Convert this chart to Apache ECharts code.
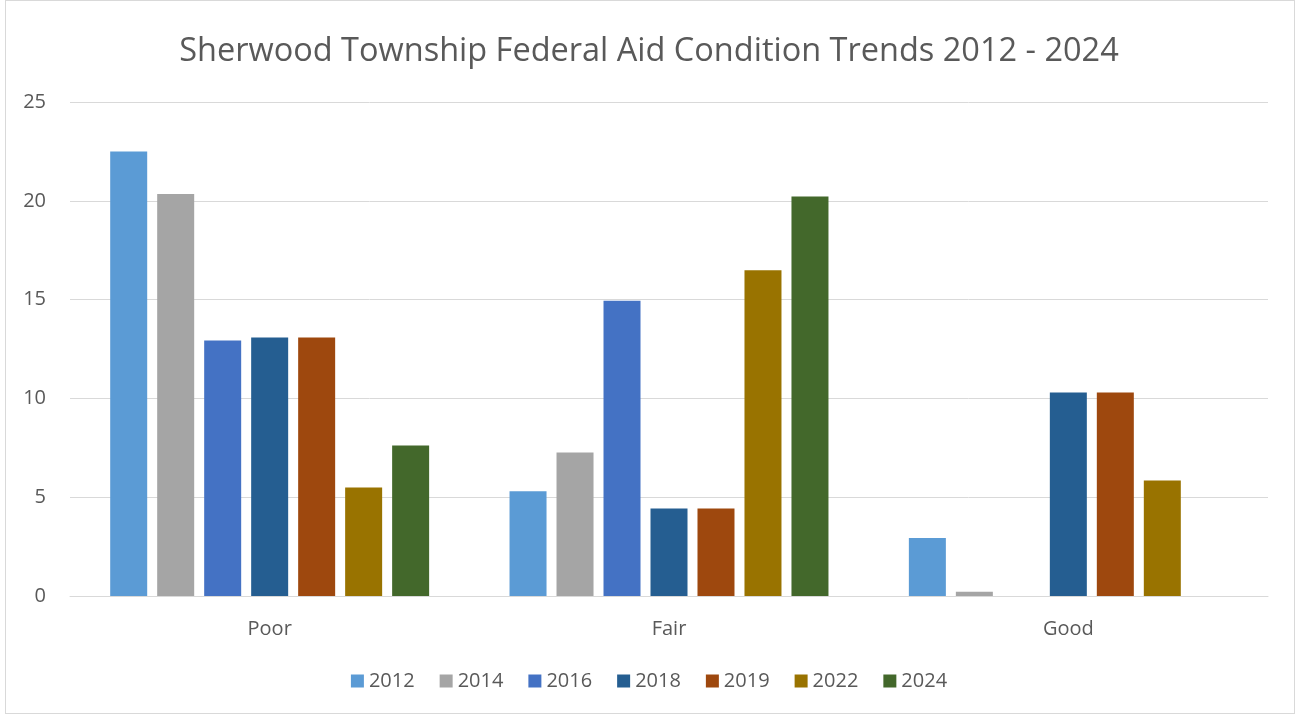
<!DOCTYPE html>
<html><head><meta charset="utf-8">
<script src="https://cdn.jsdelivr.net/npm/echarts@6/dist/echarts.min.js"></script>
<style>
html,body{margin:0;padding:0;background:#fff;}
#wrap{position:absolute;left:5px;top:0;width:1290px;height:714px;border:1px solid #d9d9d9;box-sizing:border-box;}
#c{position:absolute;left:0;top:0;width:1298px;height:717px;}
</style></head>
<body>
<div id="wrap"></div>
<div id="c"></div>
<script>
const categories = ['Poor', 'Fair', 'Good'];
const years = ['2012', '2014', '2016', '2018', '2019', '2022', '2024'];
const v2012 = [22.5, 5.3, 2.93];
const v2014 = [20.35, 7.26, 0.22];
const v2016 = [12.93, 14.94, null];
const v2018 = [13.08, 4.43, 10.3];
const v2019 = [13.08, 4.43, 10.3];
const v2022 = [5.49, 16.49, 5.84];
const v2024 = [7.62, 20.22, null];
const yTicks = [0, 5, 10, 15, 20, 25];
const colors = ['#5B9BD5', '#A5A5A5', '#4472C4', '#255E91', '#9E480E', '#997300', '#43682B'];
const allValues = [v2012, v2014, v2016, v2018, v2019, v2022, v2024];

const FONT = 'Open Sans';
const chart = echarts.init(document.getElementById('c'), null, {renderer: 'canvas'});
chart.setOption({
  backgroundColor: 'transparent',
  animation: false,
  color: colors,
  title: {
    text: 'Sherwood Township Federal Aid Condition Trends 2012 - 2024',
    left: 'center', top: 30,
    textStyle: {fontFamily: FONT, fontSize: 32.5, fontWeight: 'normal', color: '#595959'}
  },
  legend: {
    bottom: 21, left: 'center',
    itemWidth: 13, itemHeight: 13, itemGap: 25,
    icon: 'rect',
    textStyle: {fontFamily: FONT, fontSize: 20, color: '#595959'},
    data: years
  },
  grid: {left: 70, right: 30, top: 102, bottom: 121, containLabel: false},
  xAxis: {
    type: 'category', data: categories,
    axisLine: {lineStyle: {color: '#d9d9d9', width: 1}},
    axisTick: {show: false},
    axisLabel: {fontFamily: FONT, fontSize: 20, color: '#595959', margin: 23}
  },
  yAxis: {
    type: 'value', min: yTicks[0], max: yTicks[yTicks.length - 1], interval: 5,
    axisLine: {show: false}, axisTick: {show: false},
    splitLine: {lineStyle: {color: '#d9d9d9', width: 1}},
    axisLabel: {fontFamily: FONT, fontSize: 20, color: '#595959', margin: 24}
  },
  series: years.map((y, i) => ({
    name: y, type: 'bar', data: allValues[i],
    barWidth: 37, barGap: '27%',
    itemStyle: {color: colors[i]}
  }))
});
</script>
</body></html>
